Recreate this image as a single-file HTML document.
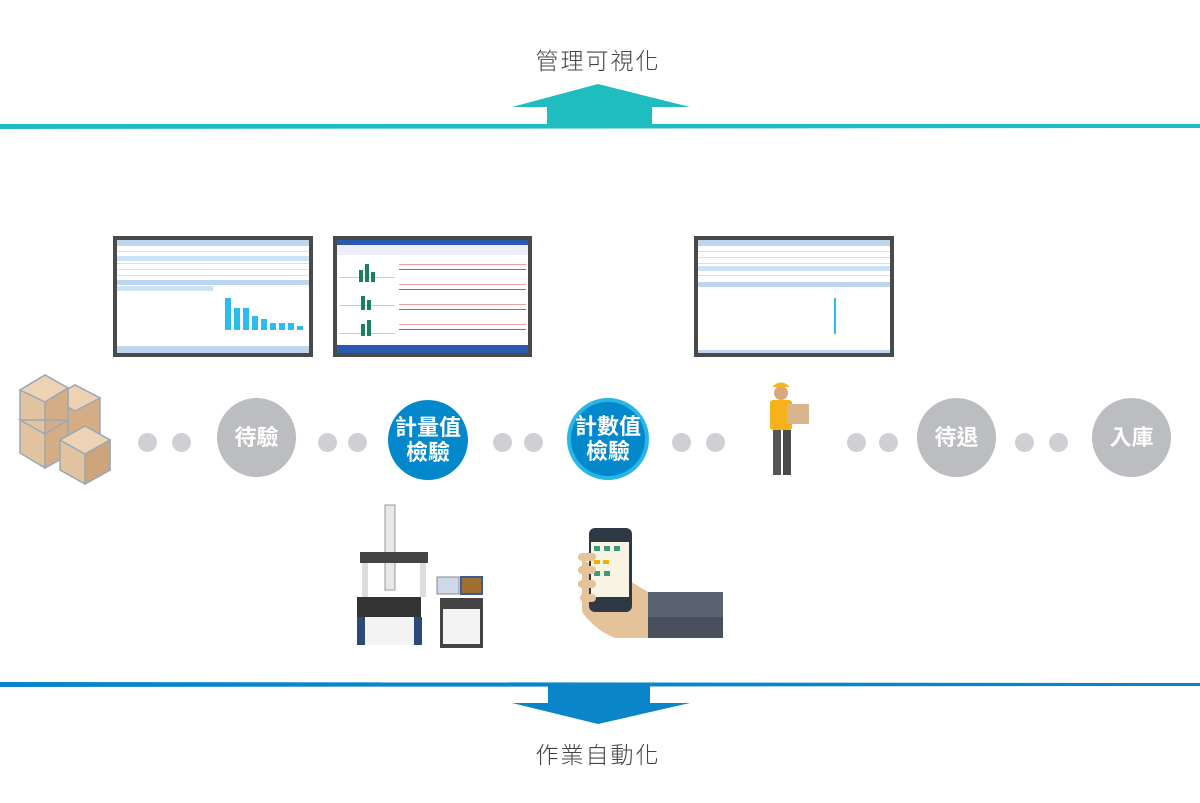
<!DOCTYPE html>
<html><head><meta charset="utf-8"><style>
body{margin:0;width:1200px;height:803px;background:#fff;position:relative;overflow:hidden;font-family:"Liberation Sans","Noto Sans CJK TC",sans-serif}
.a{position:absolute}
.t{position:absolute;font-size:23px;color:#444;letter-spacing:2px;text-align:center;width:300px;font-weight:300}
.c{position:absolute;border-radius:50%;color:#fff;font-weight:bold;display:flex;align-items:center;justify-content:center;text-align:center;line-height:25px;font-size:22px}
.d{position:absolute;width:19px;height:19px;border-radius:50%;background:#cfd0d3}
.scr{position:absolute;background:#4a4a4a;padding:4px;box-sizing:border-box}
.scr>div{width:100%;height:100%;background:#fff;position:relative;overflow:hidden}
</style></head><body>
<div class="t" style="left:448px;top:42px">管理可視化</div>
<svg class="a" style="left:0;top:0" width="1200" height="803">
<polygon points="0,124 1200,124 1200,128 0,129" fill="#20bdc0"/>
<polygon points="512,107 598,84 690,107 652,107 652,126 547,126 547,107" fill="#20bdc0"/>
<polygon points="0,682 1200,683 1200,686 0,687" fill="#0a85c9"/>
<polygon points="548,686 650,686 650,703 690,703 598,724 512,703 548,703" fill="#0a85c9"/>
<!-- boxes -->
<g stroke="#9aa8b6" stroke-width="1.5">
<polygon points="52,398 75,385 100,398 100,440 75,452 52,440" fill="#d4ad85"/>
<polygon points="52,398 75,385 100,398 75,411" fill="#edd3b3"/>
<polygon points="20,390 45,375 68,388 68,455 45,468 20,453" fill="#e2c3a0"/>
<polygon points="45,375 68,388 45,402 20,390" fill="#edd3b3"/>
<polygon points="45,402 68,388 68,455 45,468" fill="#d4ad85"/>
<polygon points="20,420 45,434 68,420" fill="none"/>
<polygon points="60,440 85,426 110,440 110,470 85,484 60,470" fill="#e2c3a0"/>
<polygon points="60,440 85,426 110,440 85,454" fill="#edd3b3"/>
<polygon points="85,454 110,440 110,470 85,484" fill="#cda47c"/>
</g>
<!-- worker -->
<circle cx="781" cy="393" r="7" fill="#d9a67e"/>
<path d="M772,387 q9,-9 18,0 z" fill="#f5b51c"/>
<rect x="770" y="400" width="22" height="30" rx="3" fill="#f7b21b"/>
<rect x="787" y="404" width="22" height="20" fill="#d9b48c"/>
<rect x="773" y="430" width="8" height="45" fill="#555"/>
<rect x="783" y="430" width="8" height="45" fill="#4a4a4a"/>
<!-- machine -->
<rect x="385" y="505" width="10" height="85" fill="#e8e8e8" stroke="#999"/>
<rect x="360" y="552" width="68" height="11" fill="#444"/>
<rect x="362" y="563" width="6" height="34" fill="#ddd"/>
<rect x="420" y="563" width="6" height="34" fill="#ddd"/>
<rect x="357" y="597" width="64" height="20" fill="#333"/>
<rect x="357" y="617" width="64" height="28" fill="#f3f3f3"/>
<rect x="357" y="617" width="8" height="28" fill="#2b4a7a"/>
<rect x="414" y="617" width="8" height="28" fill="#2b4a7a"/>
<rect x="437" y="577" width="22" height="17" fill="#cfd8e8" stroke="#888"/>
<rect x="461" y="577" width="21" height="17" fill="#a07030" stroke="#3c5a9a" stroke-width="2"/>
<rect x="440" y="598" width="43" height="50" fill="#444"/>
<rect x="443" y="609" width="37" height="35" fill="#f3f3f3"/>
<!-- hand & phone -->
<rect x="647" y="592" width="76" height="46" fill="#5a6272"/>
<rect x="647" y="617" width="76" height="21" fill="#4a4f5c"/>
<path d="M620,575 L648,592 L648,638 L615,638 Q595,630 582,612 L582,560 Z" fill="#e5c39a"/>
<rect x="589" y="528" width="43" height="84" rx="6" fill="#2f3945"/>
<rect x="591" y="542" width="38" height="55" fill="#f8f4e4"/>
<g fill="#3a9a7a"><rect x="594" y="546" width="6" height="5"/><rect x="604" y="546" width="6" height="5"/><rect x="614" y="546" width="6" height="5"/><rect x="594" y="571" width="6" height="5"/><rect x="604" y="571" width="6" height="5"/></g>
<g fill="#f0b000"><rect x="594" y="560" width="6" height="4"/><rect x="603" y="560" width="6" height="4"/></g>
<rect x="578" y="553" width="18" height="8" rx="4" fill="#e5c39a"/>
<rect x="578" y="566" width="18" height="8" rx="4" fill="#e5c39a"/>
<rect x="578" y="580" width="18" height="8" rx="4" fill="#e5c39a"/>
<rect x="580" y="594" width="16" height="8" rx="4" fill="#e5c39a"/>
</svg>
<div class="scr" style="left:113px;top:236px;width:200px;height:121px"><div>
<div class="a" style="left:0;top:0;width:192px;height:6px;background:#bcd6ef"></div>
<div class="a" style="left:0;top:6px;width:192px;height:30px;background:repeating-linear-gradient(#fff 0 5px,#dde 5px 6px)"></div>
<div class="a" style="left:0;top:16px;width:192px;height:5px;background:#cde3f5"></div>
<div class="a" style="left:0;top:40px;width:192px;height:5px;background:#bcd6ef"></div>
<div class="a" style="left:0;top:46px;width:96px;height:5px;background:#cde3f5"></div>
<div class="a" style="left:100px;top:50px;width:88px;height:58px">
<svg width="88" height="58"><g fill="#2bbcee"><rect x="8" y="8" width="6" height="32"/><rect x="17" y="18" width="6" height="22"/><rect x="26" y="18" width="6" height="22"/><rect x="35" y="26" width="6" height="14"/><rect x="44" y="29" width="6" height="11"/><rect x="53" y="33" width="6" height="7"/><rect x="62" y="33" width="6" height="7"/><rect x="71" y="33" width="6" height="7"/><rect x="80" y="36" width="6" height="4"/></g></svg></div>
<div class="a" style="left:0;top:106px;width:192px;height:7px;background:#bcd6ef"></div>
</div></div>
<div class="scr" style="left:333px;top:236px;width:199px;height:121px"><div>
<div class="a" style="left:0;top:0;width:191px;height:5px;background:#2a5ab0"></div>
<div class="a" style="left:0;top:5px;width:191px;height:10px;background:#eef"></div>
<div class="a" style="left:2px;top:17px;width:56px;height:85px;background:repeating-linear-gradient(#fff 0 20px,#ccc 20px 21px,#fff 21px 28px)"></div>
<div class="a" style="left:62px;top:17px;width:127px;height:85px;background:repeating-linear-gradient(#fff 0 7px,#f3a0a0 7px 8px,#fff 8px 12px,#6070d0 12px 13px,#fff 13px 20px)"></div>
<svg class="a" style="left:8px;top:20px" width="45" height="80"><g fill="#1a8060"><rect x="14" y="10" width="4" height="12"/><rect x="20" y="4" width="4" height="18"/><rect x="26" y="12" width="4" height="10"/><rect x="16" y="36" width="4" height="14"/><rect x="22" y="40" width="4" height="10"/><rect x="16" y="64" width="4" height="12"/><rect x="22" y="60" width="4" height="16"/></g></svg>
<div class="a" style="left:0;top:105px;width:191px;height:8px;background:#2a5ab0"></div>
</div></div>
<div class="scr" style="left:694px;top:236px;width:200px;height:121px"><div>
<div class="a" style="left:0;top:0;width:192px;height:6px;background:#bcd6ef"></div>
<div class="a" style="left:0;top:6px;width:192px;height:30px;background:repeating-linear-gradient(#fff 0 5px,#dde 5px 6px)"></div>
<div class="a" style="left:0;top:26px;width:192px;height:5px;background:#cde3f5"></div>
<div class="a" style="left:0;top:42px;width:192px;height:5px;background:#bcd6ef"></div>
<div class="a" style="left:136px;top:58px;width:2px;height:36px;background:#2bbcee"></div>
<div class="a" style="left:0;top:110px;width:192px;height:4px;background:#bcd6ef"></div>
</div></div>
<div class="d" style="left:138px;top:433px"></div><div class="d" style="left:172px;top:433px"></div>
<div class="c" style="left:217px;top:398px;width:79px;height:79px;background:#bcbdc0">待驗</div>
<div class="d" style="left:318px;top:433px"></div><div class="d" style="left:348px;top:433px"></div>
<div class="c" style="left:388px;top:400px;width:80px;height:80px;background:#0388cc">計量值<br>檢驗</div>
<div class="d" style="left:493px;top:433px"></div><div class="d" style="left:524px;top:433px"></div>
<div class="c" style="left:567px;top:398px;width:74px;height:74px;background:#0388cc;border:4px solid #28b6e6">計數值<br>檢驗</div>
<div class="d" style="left:672px;top:433px"></div><div class="d" style="left:706px;top:433px"></div>
<div class="d" style="left:847px;top:433px"></div><div class="d" style="left:879px;top:433px"></div>
<div class="c" style="left:917px;top:398px;width:79px;height:79px;background:#bcbdc0">待退</div>
<div class="d" style="left:1015px;top:433px"></div><div class="d" style="left:1049px;top:433px"></div>
<div class="c" style="left:1092px;top:398px;width:79px;height:79px;background:#bcbdc0">入庫</div>
<div class="t" style="left:448px;top:736px">作業自動化</div>
</body></html>
